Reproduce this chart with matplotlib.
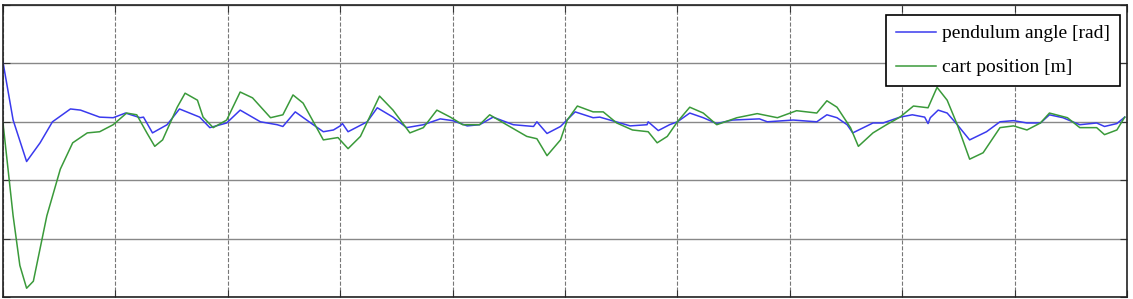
import numpy as np
import matplotlib
matplotlib.use('Agg')
import matplotlib.pyplot as plt

# ============================================================
# Data
# ============================================================

t_angle = [0.00, 0.09, 0.21, 0.33, 0.44, 0.60, 0.69, 0.86, 0.98, 1.09, 1.22, 1.25,
           1.33, 1.46, 1.57, 1.75, 1.84, 1.99, 2.11, 2.29, 2.44, 2.49, 2.60, 2.76,
           2.85, 2.94, 3.00, 3.02, 3.07, 3.24, 3.33, 3.47, 3.59, 3.74, 3.89, 4.00,
           4.13, 4.24, 4.36, 4.54, 4.72, 4.75, 4.84, 4.96, 5.09, 5.25, 5.31, 5.40,
           5.58, 5.73, 5.74, 5.83, 5.93, 6.00, 6.11, 6.23, 6.35, 6.49, 6.73, 6.80,
           7.03, 7.24, 7.33, 7.42, 7.51, 7.56, 7.74, 7.83, 7.98, 8.09, 8.20, 8.23,
           8.25, 8.32, 8.40, 8.49, 8.60, 8.75, 8.87, 8.99, 9.11, 9.23, 9.31, 9.43,
           9.58, 9.73, 9.80, 9.91, 9.98]
angle = [1.02, 0.03, -0.68, -0.36, 0.00, 0.22, 0.20, 0.08, 0.07, 0.15, 0.07, 0.08,
         -0.19, -0.05, 0.22, 0.08, -0.10, -0.02, 0.20, 0.00, -0.05, -0.08, 0.17, -0.05,
         -0.17, -0.14, -0.07, -0.03, -0.17, 0.00, 0.24, 0.08, -0.10, -0.05, 0.05, 0.02,
         -0.07, -0.05, 0.08, -0.05, -0.08, 0.00, -0.20, -0.08, 0.17, 0.07, 0.08, 0.03,
         -0.07, -0.05, 0.00, -0.15, -0.05, 0.00, 0.15, 0.07, -0.03, 0.03, 0.05, 0.00,
         0.03, 0.00, 0.12, 0.07, -0.05, -0.19, -0.02, -0.02, 0.08, 0.12, 0.08, -0.03,
         0.07, 0.20, 0.15, -0.05, -0.31, -0.17, 0.00, 0.02, -0.02, -0.02, 0.12, 0.07,
         -0.05, -0.02, -0.08, -0.03, 0.08]

t_cart = [0.00, 0.09, 0.15, 0.21, 0.27, 0.39, 0.51, 0.62, 0.75, 0.86, 0.98, 1.10,
          1.19, 1.28, 1.35, 1.42, 1.55, 1.62, 1.73, 1.78, 1.87, 1.99, 2.11, 2.22,
          2.38, 2.49, 2.58, 2.67, 2.85, 2.98, 3.07, 3.18, 3.35, 3.47, 3.62, 3.74,
          3.86, 3.98, 4.09, 4.24, 4.33, 4.48, 4.66, 4.75, 4.84, 4.96, 5.02, 5.11,
          5.25, 5.34, 5.46, 5.60, 5.74, 5.82, 5.91, 6.00, 6.11, 6.23, 6.35, 6.53,
          6.71, 6.89, 7.06, 7.24, 7.33, 7.42, 7.54, 7.61, 7.74, 7.86, 7.98, 8.10,
          8.23, 8.31, 8.40, 8.49, 8.60, 8.72, 8.87, 8.99, 9.11, 9.23, 9.31, 9.47,
          9.58, 9.73, 9.80, 9.91, 9.98]
cart = [-0.02, -1.61, -2.46, -2.85, -2.73, -1.61, -0.81, -0.36, -0.19, -0.17, -0.05, 0.15,
        0.12, -0.19, -0.42, -0.31, 0.25, 0.49, 0.37, 0.08, -0.10, 0.03, 0.51, 0.41,
        0.07, 0.12, 0.46, 0.32, -0.31, -0.27, -0.46, -0.25, 0.44, 0.20, -0.19, -0.10,
        0.20, 0.08, -0.05, -0.05, 0.12, -0.05, -0.25, -0.29, -0.58, -0.31, 0.03, 0.27,
        0.17, 0.17, -0.02, -0.14, -0.17, -0.36, -0.25, 0.00, 0.25, 0.15, -0.05, 0.07,
        0.14, 0.07, 0.19, 0.15, 0.36, 0.25, -0.10, -0.42, -0.19, -0.05, 0.08, 0.27,
        0.24, 0.59, 0.37, -0.05, -0.64, -0.53, -0.10, -0.07, -0.14, -0.02, 0.15, 0.07,
        -0.10, -0.10, -0.22, -0.14, 0.08]

x_ticks = np.arange(0, 11, 1)
y_ticks = np.arange(-3, 3, 1)

# ============================================================
# Plot
# ============================================================

fig = plt.figure(figsize=(11.33, 2.99), dpi=100)
ax = fig.add_axes([3 / 1133, 2 / 299, 1124 / 1133, 292 / 299])

ax.plot(t_angle, angle, color='#3a3aee', linewidth=1.1, label='pendulum angle [rad]')
ax.plot(t_cart, cart, color='#3a9a3a', linewidth=1.1, label='cart position [m]')

ax.set_xlim(0, 10)
ax.set_ylim(-3, 2)
ax.set_xticks(x_ticks)
ax.set_yticks(y_ticks)
ax.tick_params(direction='in', length=5, top=True, right=True,
               labelbottom=False, labelleft=False, color='#333333')

ax.xaxis.grid(True, linestyle='--', color='#777777', linewidth=0.8)
ax.yaxis.grid(True, linestyle='-', color='#888888', linewidth=1.0)
ax.set_axisbelow(True)
for s in ax.spines.values():
    s.set_linewidth(1.2)
    s.set_color('#222222')

# legend box in the reference spans roughly x 892-1120, y 15-87 px
leg = ax.legend(loc='upper right', bbox_to_anchor=(1117 / 1124, 1 - 10 / 292),
                borderaxespad=0,
                prop={'family': 'Liberation Serif', 'size': 14},
                handlelength=2.1, handletextpad=0.3, labelspacing=0.85,
                borderpad=0.5, fancybox=False, framealpha=1, edgecolor='black')
leg.get_frame().set_linewidth(1.2)

fig.savefig('out.png', dpi=100)
plt.close()
